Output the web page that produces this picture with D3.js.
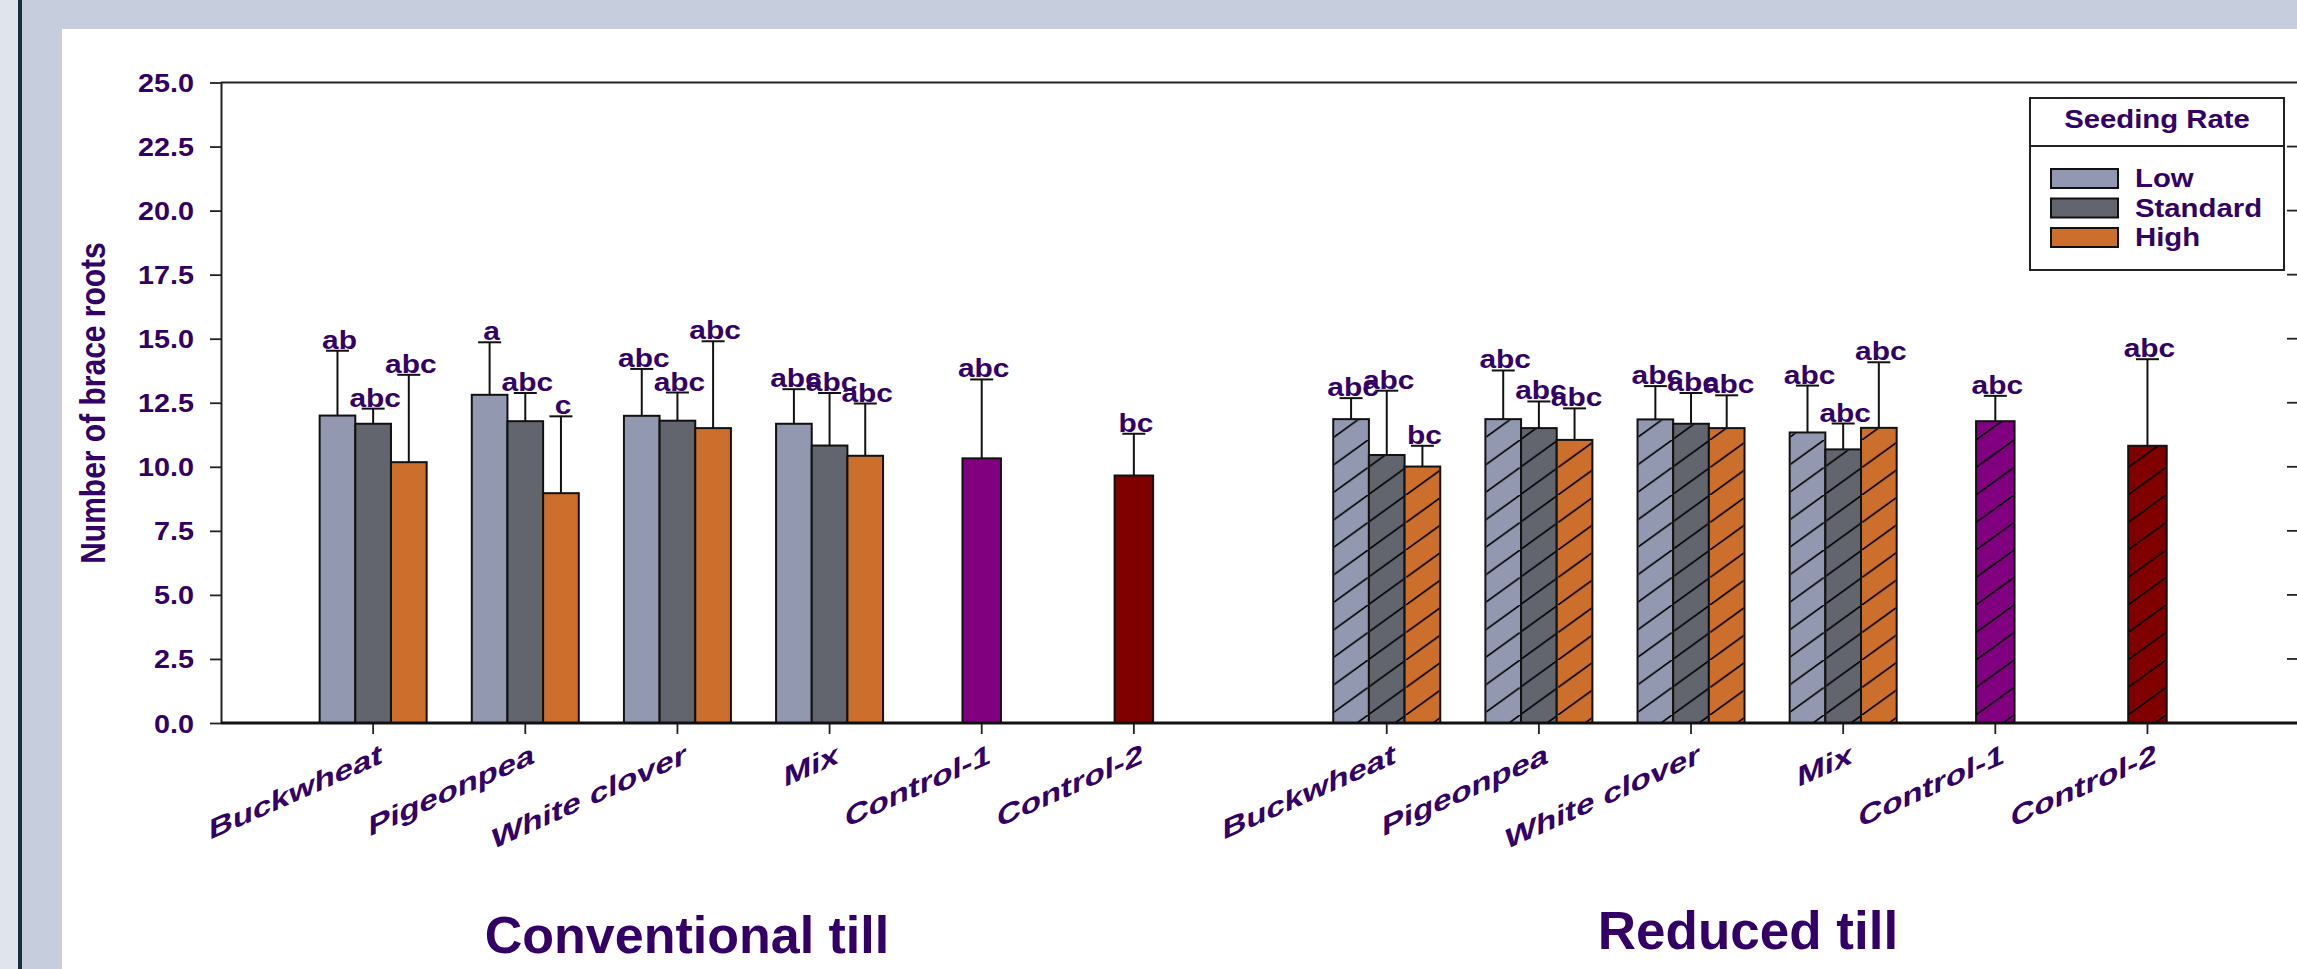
<!DOCTYPE html>
<html>
<head>
<meta charset="utf-8">
<script src="https://cdn.jsdelivr.net/npm/d3@7"></script>
<style>
  body { margin: 0; background: #c6cddc; }
  svg { display: block; font-family: "Liberation Sans", Arial, sans-serif; }
</style>
</head>
<body>
<svg id="chart" width="2297" height="969"></svg>
<script>
// brace roots chart, conventional vs reduced till

const crops = ["Buckwheat", "Pigeonpea", "White clover", "Mix", "Control-1", "Control-2"];
const rates = ["Low", "Standard", "High"];
const yTicks = [0, 2.5, 5, 7.5, 10, 12.5, 15, 17.5, 20, 22.5, 25];

// means per crop (Low, Standard, High); controls have one value
const ctMeans = [[12.0, 11.68, 10.18], [12.81, 11.78, 8.97], [11.99, 11.8, 11.51], [11.68, 10.83, 10.43], [10.33], [9.66]];
const ctErrors = [[2.53, 0.59, 3.41], [2.05, 1.10, 3.0], [1.83, 1.1, 3.39], [1.35, 2.05, 2.04], [3.08], [1.63]];
const ctLetters = [["ab", "abc", "abc"], ["a", "abc", "c"], ["abc", "abc", "abc"], ["abc", "abc", "abc"], ["abc"], ["bc"]];

const rtMeans = [[11.86, 10.46, 10.01], [11.86, 11.51, 11.05], [11.85, 11.68, 11.51], [11.34, 10.68, 11.52], [11.78], [10.82]];
const rtErrors = [[0.82, 2.51, 0.81], [1.9, 1.04, 1.23], [1.3, 1.2, 1.28], [1.83, 1.01, 2.56], [0.99], [3.38]];
const rtLetters = [["abc", "abc", "bc"], ["abc", "abc", "abc"], ["abc", "abc", "abc"], ["abc", "abc", "abc"], ["abc"], ["abc"]];

const rateColors = ["#9198b0", "#62656e", "#cc6f2d"];
const controlColors = ["#800080", "#800000"];
const TEXT = "#330066";
const STRETCH = 1.15; // the figure is a little wider than it is tall

let svg = d3.select("#chart");

// page frame
svg.append("rect").attr("width", 2297).attr("height", 969).attr("fill", "#c6cddc");
svg.append("rect").attr("x", 0).attr("y", 0).attr("width", 18).attr("height", 969).attr("fill", "#e0e4ed");
svg.append("rect").attr("x", 18).attr("y", 0).attr("width", 4).attr("height", 969).attr("fill", "#14303e");
svg.append("rect").attr("x", 62).attr("y", 29).attr("width", 2297 - 62).attr("height", 969 - 29).attr("fill", "#fff");

// hatching for reduced till
let defs = svg.append("defs");
let hatch = defs.append("pattern")
  .attr("id", "hatch")
  .attr("patternUnits", "userSpaceOnUse")
  .attr("width", 38).attr("height", 27.5);
hatch.append("line")
  .attr("x1", -2).attr("y1", 27.5 + 1.45).attr("x2", 40).attr("y2", -1.45)
  .attr("stroke", "#000").attr("stroke-width", 1.6);

let y = d3.scaleLinear().domain([0, 25]).range([723, 82.5]);
let xCT = d3.scalePoint().domain(crops).range([221, 1286]).padding(1);
let xRT = d3.scalePoint().domain(crops).range([1234.6, 2299.6]).padding(1);
let groupW = 107;
let xRate = d3.scaleBand().domain(rates).range([-groupW / 2, groupW / 2]);
let controlW = 38.5;

// frame lines
svg.append("line").attr("x1", 221).attr("x2", 2297).attr("y1", y(25)).attr("y2", y(25))
  .attr("stroke", "#222").attr("stroke-width", 1.8);

// y axis
let yAxis = d3.axisLeft(y).tickValues(yTicks).tickFormat(d3.format(".1f")).tickSize(11).tickSizeOuter(0);
let gy = svg.append("g").attr("transform", "translate(221,0)").call(yAxis);
gy.select(".domain").attr("stroke", "#222").attr("stroke-width", 2);
gy.selectAll(".tick line").attr("stroke", "#222").attr("stroke-width", 1.8);
gy.selectAll(".tick text").remove();
gy.selectAll(".tick").append("text")
  .attr("transform", "translate(-27,9) scale(" + STRETCH + ",1)")
  .attr("text-anchor", "end")
  .attr("fill", TEXT)
  .attr("font-size", 25).attr("font-weight", "bold")
  .text(d => d3.format(".1f")(d));

// mirror ticks at the right edge
svg.append("g").selectAll("line").data(yTicks.slice(1, -1)).join("line")
  .attr("x1", 2287).attr("x2", 2297).attr("y1", d => y(d)).attr("y2", d => y(d))
  .attr("stroke", "#222").attr("stroke-width", 1.8);

svg.append("text")
  .attr("transform", "translate(105,403) scale(" + STRETCH + ",1) rotate(-90)")
  .attr("text-anchor", "middle")
  .attr("fill", TEXT).attr("font-size", 30).attr("font-weight", "bold")
  .text("Number of brace roots");

function drawPanel(x, means, errors, letters, hatched)
{
  let items = [];
  crops.forEach((c, i) => {
    means[i].forEach((m, j) => {
      let isControl = means[i].length === 1;
      let w = isControl ? controlW : xRate.bandwidth();
      let x0 = isControl ? x(c) - w / 2 : x(c) + xRate(rates[j]);
      items.push({
        x0: x0, w: w, mean: m, top: m + errors[i][j], letter: letters[i][j],
        color: isControl ? controlColors[i - 4] : rateColors[j]
      });
    });
  });

  let g = svg.append("g");

  // error bars first, bars cover their foot
  g.selectAll(".err").data(items).join("line")
    .attr("x1", d => d.x0 + d.w / 2).attr("x2", d => d.x0 + d.w / 2)
    .attr("y1", d => y(d.mean)).attr("y2", d => y(d.top))
    .attr("stroke", "#111").attr("stroke-width", 2);
  g.selectAll(".cap").data(items).join("line")
    .attr("x1", d => d.x0 + d.w / 2 - 11.5).attr("x2", d => d.x0 + d.w / 2 + 11.5)
    .attr("y1", d => y(d.top)).attr("y2", d => y(d.top))
    .attr("stroke", "#111").attr("stroke-width", 2);

  g.selectAll(".bar").data(items).join("rect")
    .attr("x", d => d.x0).attr("width", d => d.w)
    .attr("y", d => y(d.mean)).attr("height", d => y(0) - y(d.mean))
    .attr("fill", d => d.color)
    .attr("stroke", "#111").attr("stroke-width", 2);

  if (hatched)
  {
    g.selectAll(".hatch").data(items).join("rect")
      .attr("x", d => d.x0 + 1).attr("width", d => d.w - 2)
      .attr("y", d => y(d.mean) + 1).attr("height", d => y(0) - y(d.mean) - 2)
      .attr("fill", "url(#hatch)");
  }

  g.selectAll(".letter").data(items).join("text")
    .attr("transform", d => "translate(" + (d.x0 + d.w / 2 + 2) + "," + (y(d.top) - 2) + ") scale(" + STRETCH + ",1)")
    .attr("text-anchor", "middle")
    .attr("fill", TEXT).attr("font-size", 26).attr("font-weight", "bold")
    .text(d => d.letter);

  // category ticks and labels (slanted baseline, upright strokes)
  g.selectAll(".xt").data(crops).join("line")
    .attr("x1", d => x(d)).attr("x2", d => x(d))
    .attr("y1", y(0)).attr("y2", y(0) + 11)
    .attr("stroke", "#222").attr("stroke-width", 1.8);
  g.selectAll(".xl").data(crops).join("text")
    .attr("transform", d => "translate(" + (x(d) + 9) + ",763) skewY(-24) scale(" + STRETCH + ",1)")
    .attr("text-anchor", "end")
    .attr("fill", TEXT).attr("font-size", 28.5).attr("font-weight", "bold")
    .text(d => d);
}

drawPanel(xCT, ctMeans, ctErrors, ctLetters, false);
drawPanel(xRT, rtMeans, rtErrors, rtLetters, true);

// x axis line on top of bar bottoms
svg.append("line").attr("x1", 221).attr("x2", 2297).attr("y1", y(0)).attr("y2", y(0))
  .attr("stroke", "#111").attr("stroke-width", 3);

// legend
let legend = svg.append("g");
legend.append("rect").attr("x", 2030).attr("y", 98).attr("width", 254).attr("height", 172)
  .attr("fill", "#fff").attr("stroke", "#222").attr("stroke-width", 2);
legend.append("line").attr("x1", 2030).attr("x2", 2284).attr("y1", 146).attr("y2", 146)
  .attr("stroke", "#222").attr("stroke-width", 2);
legend.append("text")
  .attr("transform", "translate(2157,128) scale(" + STRETCH + ",1)")
  .attr("text-anchor", "middle")
  .attr("fill", TEXT).attr("font-size", 25.5).attr("font-weight", "bold")
  .text("Seeding Rate");
let ly = d3.scalePoint().domain(rates).range([169, 228]);
legend.selectAll(".sw").data(rates).join("rect")
  .attr("x", 2051).attr("y", d => ly(d)).attr("width", 67).attr("height", 19)
  .attr("fill", (d, i) => rateColors[i]).attr("stroke", "#111").attr("stroke-width", 2);
legend.selectAll(".lt").data(rates).join("text")
  .attr("transform", d => "translate(2135," + (ly(d) + 18) + ") scale(" + STRETCH + ",1)")
  .attr("fill", TEXT).attr("font-size", 25.5).attr("font-weight", "bold")
  .text(d => d);

// tillage titles
svg.append("text").attr("x", 687).attr("y", 953).attr("text-anchor", "middle")
  .attr("fill", TEXT).attr("font-size", 52).attr("font-weight", "bold")
  .text("Conventional till");
svg.append("text").attr("x", 1748).attr("y", 949).attr("text-anchor", "middle")
  .attr("fill", TEXT).attr("font-size", 53).attr("font-weight", "bold")
  .text("Reduced till");
</script>
</body>
</html>
